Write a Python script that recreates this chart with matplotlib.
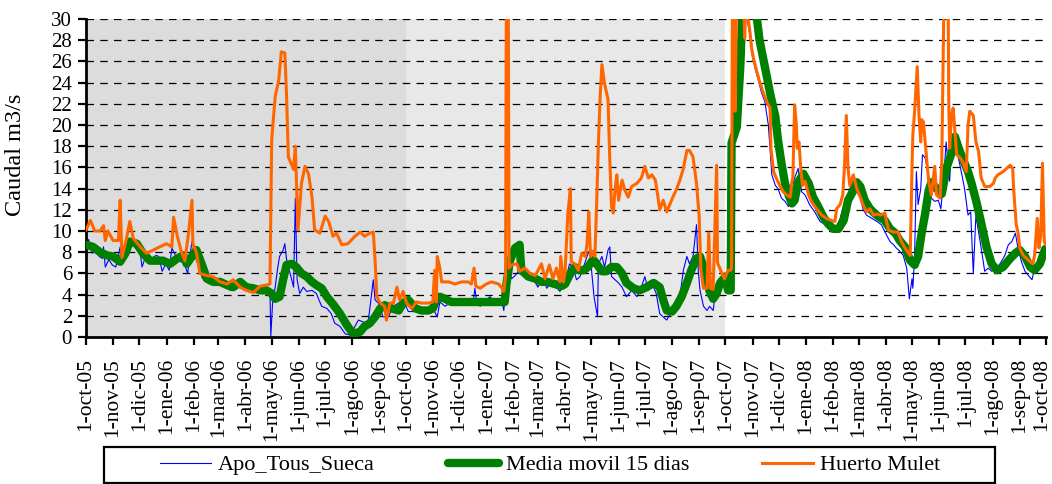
import matplotlib
matplotlib.use("Agg")
import matplotlib.pyplot as plt
import matplotlib.transforms as mtransforms
import pandas as pd
from matplotlib.lines import Line2D
from matplotlib.patches import Rectangle

plt.rcParams['font.family'] = ['Liberation Serif', 'DejaVu Serif']

# dias contados desde el 1-oct-2005
inicio = pd.Timestamp("2005-10-01")

# Apo_Tous_Sueca (m3/s)
dias_apo = [0, 3, 7, 11, 15, 19, 20, 22, 26, 30, 34, 39, 41, 47, 53, 59, 62, 64, 68, 74, 80, 83, 87, 91, 95, 98,
            104, 108, 112, 116, 119, 121, 125, 129, 133, 137, 142, 150, 158, 165, 173, 180, 188, 195, 205, 210,
            211, 213, 216, 219, 221, 225, 227, 229, 233, 237, 239, 241, 244, 248, 252, 258, 263, 269, 275, 280,
            284, 290, 296, 301, 305, 311, 317, 322, 328, 330, 334, 339, 345, 351, 357, 362, 368, 376, 387, 396,
            401, 404, 410, 417, 425, 433, 442, 444, 446, 450, 455, 461, 467, 475, 477, 479, 482, 486, 490, 494,
            499, 505, 511, 516, 520, 524, 526, 532, 537, 541, 545, 549, 552, 556, 560, 564, 568, 572, 575, 580,
            584, 585, 589, 592, 596, 598, 600, 604, 608, 612, 617, 623, 629, 634, 638, 642, 646, 651, 655, 659,
            663, 667, 672, 678, 682, 686, 689, 693, 697, 699, 701, 705, 709, 712, 716, 720, 726, 731, 736, 738,
            739, 743, 749, 751, 754, 756, 758, 760, 762, 764, 768, 771, 775, 779, 783, 787, 790, 794, 798, 802,
            806, 809, 813, 817, 821, 826, 832, 838, 844, 849, 855, 861, 864, 868, 872, 876, 880, 884, 887, 891,
            897, 903, 908, 914, 918, 922, 925, 929, 933, 937, 940, 943, 944, 946, 948, 950, 953, 955, 958, 962,
            965, 969, 973, 976, 979, 982, 986, 988, 992, 996, 1000, 1003, 1007, 1010, 1013, 1016, 1019, 1022,
            1026, 1030, 1034, 1040, 1045, 1049, 1053, 1057, 1061, 1064, 1068, 1072, 1076, 1080, 1083, 1087,
            1091, 1095]
q_apo = [8.8, 9.2, 7.9, 8.2, 7.6, 7.4, 8.5, 6.6, 7.3, 6.8, 6.6, 8.5, 7.6, 8.5, 8.7, 8.2, 7.9, 6.6, 7.6, 7.3, 7.7,
         7.6, 6.2, 6.9, 6.3, 8.4, 7.4, 7.1, 7.0, 6.0, 7.9, 9.0, 7.6, 6.6, 5.5, 5.7, 5.2, 5.1, 4.7, 4.4, 4.6, 5.1,
         4.7, 4.4, 4.6, 4.4, 0.1, 3.2, 4.7, 6.6, 7.6, 8.2, 8.8, 7.3, 6.0, 4.7, 13.1, 5.4, 4.1, 4.7, 4.3, 4.4,
         4.1, 2.9, 2.7, 2.2, 1.3, 1.0, 0.3, 0.2, 0.7, 1.6, 1.4, 1.3, 5.4, 3.5, 3.2, 1.9, 1.9, 2.9, 3.2, 3.5,
         2.4, 2.4, 2.5, 2.7, 1.9, 3.3, 2.9, 3.3, 3.2, 3.3, 3.3, 4.6, 3.3, 2.9, 3.3, 3.8, 3.3, 3.3, 2.5, 4.3,
         6.5, 5.5, 5.8, 6.2, 5.8, 5.5, 5.4, 4.7, 5.5, 5.1, 4.6, 5.2, 4.7, 4.3, 4.9, 5.8, 6.9, 6.6, 5.4, 5.7,
         6.6, 7.6, 8.2, 3.8, 1.9, 6.9, 7.6, 6.6, 8.2, 8.5, 5.7, 5.4, 5.1, 4.7, 3.8, 4.4, 3.8, 4.7, 5.7, 4.4,
         5.1, 4.1, 2.2, 1.9, 1.6, 2.2, 2.9, 3.8, 6.3, 7.6, 6.9, 7.6, 10.6, 6.3, 4.4, 2.9, 2.5, 2.9, 2.5, 5.1,
         5.1, 4.4, 4.7, 4.3, 20.9, 33.0, 33.0, 26.6, 32.0, 29.4, 28.5, 26.9, 26.0, 25.3, 24.1, 23.1, 22.2,
         20.0, 15.3, 14.3, 14.0, 13.1, 12.8, 12.3, 14.0, 15.0, 15.9, 13.7, 13.4, 12.5, 11.8, 10.9, 10.6, 10.3,
         9.9, 11.2, 12.1, 12.8, 14.0, 14.7, 13.7, 13.1, 12.1, 11.5, 11.2, 10.9, 10.6, 9.6, 9.0, 8.7, 8.4, 8.1,
         7.7, 6.5, 3.6, 5.5, 4.6, 7.7, 15.6, 12.5, 14.0, 17.2, 16.9, 15.3, 13.1, 12.8, 12.9, 12.1, 14.7, 18.4,
         14.7, 17.8, 18.4, 16.9, 15.3, 14.0, 11.5, 11.8, 6.0, 11.5, 9.9, 8.4, 6.2, 6.5, 6.2, 6.5, 7.1, 7.7,
         8.7, 9.0, 9.8, 8.4, 7.1, 6.2, 5.8, 5.4, 6.5, 7.1, 7.7, 8.7]

# Media movil 15 dias (m3/s)
dias_media = [0, 8, 16, 24, 31, 39, 45, 50, 58, 65, 73, 81, 88, 96, 104, 111, 115, 121, 126, 132, 138, 145, 153,
              161, 168, 176, 183, 191, 199, 206, 212, 216, 221, 225, 229, 235, 240, 246, 252, 258, 263, 269, 275,
              282, 290, 298, 305, 313, 318, 324, 330, 336, 341, 349, 357, 362, 368, 376, 383, 391, 396, 400, 404,
              410, 417, 440, 460, 478, 480, 484, 490, 495, 497, 505, 513, 520, 527, 535, 543, 547, 553, 558, 562,
              568, 573, 579, 583, 589, 594, 600, 606, 612, 617, 625, 632, 640, 648, 655, 659, 663, 669, 674, 680,
              686, 691, 697, 701, 705, 709, 712, 716, 720, 724, 730, 733, 736, 737, 743, 747, 749, 753, 762, 766,
              769, 775, 781, 787, 790, 794, 798, 802, 806, 809, 813, 819, 825, 830, 836, 842, 847, 853, 859, 865,
              870, 876, 880, 884, 889, 895, 901, 906, 912, 918, 924, 929, 935, 941, 946, 950, 954, 958, 962, 965,
              971, 977, 983, 988, 992, 996, 1000, 1003, 1007, 1011, 1017, 1023, 1028, 1034, 1040, 1047, 1055,
              1061, 1066, 1072, 1078, 1083, 1089, 1095]
q_media = [8.7, 8.5, 8.0, 7.7, 7.6, 7.1, 7.9, 9.0, 8.8, 7.9, 7.2, 7.2, 7.2, 6.9, 7.4, 7.7, 6.9, 7.6, 8.2, 6.9, 5.5,
           5.2, 5.2, 4.9, 4.7, 5.2, 4.7, 4.6, 4.4, 4.4, 4.1, 3.6, 3.8, 5.4, 6.8, 6.9, 6.6, 6.0, 5.7, 5.2, 4.9,
           4.6, 3.8, 3.1, 2.2, 1.1, 0.3, 0.5, 1.0, 1.3, 1.9, 2.7, 3.0, 2.7, 2.5, 3.2, 3.5, 2.7, 2.5, 2.5, 2.7,
           3.5, 3.8, 3.6, 3.3, 3.3, 3.3, 3.3, 5.0, 7.2, 8.4, 8.7, 6.3, 5.7, 5.5, 5.2, 5.2, 5.0, 4.8, 5.0, 6.0,
           6.6, 6.3, 6.3, 6.6, 7.3, 6.9, 6.2, 6.2, 6.6, 6.6, 6.0, 5.1, 4.6, 4.4, 4.7, 5.1, 4.7, 3.5, 2.5, 2.4,
           2.9, 3.8, 5.1, 6.3, 7.4, 7.6, 6.6, 5.4, 4.3, 3.6, 4.1, 5.1, 5.7, 4.4, 4.4, 18.3, 19.8, 25.5, 30.0,
           33.0, 33.0, 30.0, 28.0, 25.5, 23.0, 20.8, 18.6, 16.4, 14.5, 13.4, 12.6, 12.9, 14.6, 15.4, 14.5, 13.2,
           12.3, 11.3, 10.7, 10.2, 10.2, 11.0, 12.9, 13.8, 14.6, 14.2, 12.9, 12.1, 11.6, 11.3, 11.0, 10.2, 9.8,
           9.1, 8.5, 7.2, 6.8, 7.6, 9.8, 11.6, 13.8, 14.6, 14.0, 13.5, 16.1, 17.3, 18.9, 17.9, 17.0, 16.4, 15.6,
           14.5, 12.6, 10.4, 8.5, 6.9, 6.3, 6.6, 7.4, 7.9, 8.2, 7.6, 6.6, 6.3, 6.9, 8.3]

# Huerto Mulet (m3/s)
dias_huerto = [0, 5, 10, 16, 20, 22, 25, 31, 37, 39, 41, 46, 50, 54, 62, 69, 77, 84, 92, 98, 100, 104, 109, 113,
               117, 121, 122, 126, 130, 138, 145, 153, 161, 168, 176, 183, 191, 199, 206, 210, 212, 216, 220, 223,
               227, 229, 231, 237, 239, 242, 246, 250, 254, 258, 261, 267, 273, 277, 282, 286, 292, 299, 307, 313,
               318, 324, 328, 330, 332, 336, 341, 343, 347, 351, 355, 358, 362, 366, 368, 372, 377, 383, 391, 396,
               398, 400, 401, 404, 406, 414, 421, 429, 436, 440, 443, 445, 450, 457, 463, 471, 475, 477, 479, 480,
               482, 483, 486, 492, 495, 501, 507, 513, 520, 524, 529, 533, 537, 541, 542, 545, 547, 550, 553, 554,
               558, 562, 566, 570, 572, 574, 576, 579, 581, 583, 585, 587, 589, 592, 596, 598, 600, 602, 604, 606,
               608, 612, 615, 619, 623, 629, 634, 638, 642, 646, 650, 653, 655, 659, 663, 667, 670, 674, 678, 682,
               686, 689, 693, 697, 700, 702, 705, 709, 711, 713, 716, 720, 721, 726, 729, 733, 736, 737, 738, 740,
               741, 743, 750, 752, 754, 756, 758, 760, 762, 766, 769, 773, 777, 781, 782, 785, 788, 792, 796, 800,
               804, 806, 807, 809, 811, 812, 814, 816, 818, 821, 825, 828, 834, 840, 845, 851, 855, 857, 861, 864,
               866, 868, 870, 872, 876, 880, 884, 887, 891, 895, 899, 903, 907, 912, 916, 922, 927, 931, 935, 939,
               941, 943, 944, 946, 949, 951, 953, 954, 956, 958, 960, 962, 965, 969, 971, 975, 977, 980, 984, 985,
               986, 988, 990, 992, 994, 998, 1001, 1005, 1007, 1009, 1013, 1016, 1019, 1022, 1026, 1032, 1036,
               1038, 1041, 1047, 1051, 1055, 1058, 1059, 1062, 1064, 1066, 1070, 1074, 1078, 1081, 1083, 1086,
               1088, 1090, 1092, 1094, 1096]
q_huerto = [10.1, 11.0, 10.0, 10.0, 10.5, 9.1, 10.0, 9.1, 9.1, 12.9, 7.5, 9.2, 10.9, 9.3, 8.5, 7.9, 8.2, 8.5, 8.8,
            8.5, 11.3, 9.6, 8.0, 7.2, 9.8, 12.9, 8.8, 8.0, 6.0, 5.8, 5.7, 5.2, 5.0, 5.4, 4.7, 4.4, 4.2, 4.8, 4.9,
            5.0, 18.6, 22.7, 24.2, 26.9, 26.8, 22.7, 17.0, 15.8, 18.0, 10.1, 14.5, 16.1, 15.4, 13.2, 10.1, 9.8,
            11.4, 10.9, 9.5, 9.8, 8.7, 8.8, 9.5, 9.9, 9.5, 9.8, 9.9, 7.3, 3.8, 3.2, 2.9, 1.6, 3.2, 3.2, 4.7, 3.5,
            4.3, 3.2, 3.0, 2.7, 3.3, 3.2, 3.2, 3.3, 6.3, 3.3, 7.6, 6.5, 5.2, 5.2, 5.0, 5.2, 5.2, 5.0, 6.5, 4.8,
            4.6, 5.0, 5.2, 5.0, 4.6, 4.3, 5.8, 35.0, 35.0, 6.5, 6.8, 6.9, 6.2, 6.5, 6.0, 5.8, 6.9, 5.5, 6.8, 5.5,
            6.5, 5.2, 7.6, 5.2, 6.2, 11.5, 14.0, 7.1, 6.9, 6.3, 7.9, 7.6, 8.8, 11.8, 7.6, 8.1, 7.6, 12.6, 18.3,
            22.7, 25.7, 23.9, 22.4, 16.7, 12.3, 11.7, 13.9, 15.3, 12.9, 14.8, 13.9, 13.2, 14.2, 14.5, 15.0, 16.1,
            15.0, 15.3, 14.8, 13.2, 12.0, 12.9, 11.8, 12.6, 13.2, 13.9, 14.8, 15.9, 17.6, 17.6, 17.0, 14.5, 11.4,
            6.3, 4.6, 4.6, 9.8, 4.6, 4.5, 16.2, 7.0, 6.0, 5.5, 6.3, 6.3, 6.5, 34.0, 34.0, 21.3, 34.0, 34.0, 28.2,
            33.0, 30.0, 28.8, 27.2, 26.3, 25.0, 24.1, 23.1, 22.2, 21.6, 17.8, 15.6, 15.0, 14.3, 13.7, 13.4, 13.2,
            14.7, 15.0, 21.9, 20.0, 17.8, 18.4, 15.9, 14.3, 14.7, 13.4, 12.8, 12.1, 11.5, 11.2, 11.0, 10.9, 12.1,
            12.5, 13.4, 16.2, 20.9, 15.9, 14.3, 15.3, 14.0, 13.2, 12.5, 11.8, 12.1, 11.5, 11.6, 11.5, 11.7, 10.1,
            9.9, 9.9, 9.0, 8.4, 7.9, 7.7, 15.9, 19.1, 21.3, 25.5, 20.9, 18.4, 20.5, 20.3, 18.4, 16.5, 14.7, 13.4,
            16.1, 13.4, 13.1, 16.5, 35.0, 35.0, 22.0, 17.8, 20.9, 21.6, 19.4, 17.2, 16.9, 16.5, 15.6, 20.0, 21.3,
            20.9, 18.4, 17.5, 15.0, 14.2, 14.2, 14.5, 15.0, 15.3, 15.6, 15.9, 16.2, 15.9, 14.0, 10.6, 9.9, 8.4,
            7.7, 7.4, 7.1, 6.9, 7.7, 11.2, 8.4, 9.6, 16.4, 9.0, 8.7]

meses = ["ene", "feb", "mar", "abr", "may", "jun", "jul", "ago", "sep", "oct", "nov", "dic"]


def fechas(dias):
    return inicio + pd.to_timedelta(dias, unit="D")


fig = plt.figure(figsize=(10.52, 4.84), dpi=100)
ax = fig.add_axes([86 / 1052, 1 - 337 / 484, 960 / 1052, 318 / 484])

# fondo por año hidrológico
ax.axvspan(fechas(0), fechas(365), color="#dcdcdc", lw=0, zorder=0)
ax.axvspan(fechas(365), fechas(730), color="#e8e8e8", lw=0, zorder=0)

for y in range(2, 31, 2):
    ax.axhline(y, color="black", lw=0.9, dashes=(6, 5), zorder=1)

ax.plot(fechas(dias_apo), q_apo, color="#0000ff", lw=0.8, zorder=2)
ax.plot(fechas(dias_media), q_media, color="#008000", lw=6, solid_capstyle="round",
        solid_joinstyle="round", zorder=3)
ax.plot(fechas(dias_huerto), q_huerto, color="#ff6600", lw=2.2, zorder=4)

ax.set_ylim(0, 30)
ax.set_xlim(fechas(0), fechas(1096))
ax.set_yticks(range(0, 31, 2))

ticks = pd.date_range("2005-10-01", "2008-10-01", freq="MS")
ax.set_xticks(ticks)
ax.set_xticklabels([f"1-{meses[t.month - 1]}-{t.strftime('%y')}" for t in ticks], rotation=90)

for lado in ["top", "right"]:
    ax.spines[lado].set_visible(False)
for lado in ["left", "bottom"]:
    ax.spines[lado].set_linewidth(2)
ax.tick_params(axis="both", direction="out", length=6, width=1.6)
ax.tick_params(axis="y", labelsize=15, pad=4)
ax.tick_params(axis="x", labelsize=15.5, pad=9)

# la última etiqueta queda pegada al borde: se desplaza un poco a la izquierda
ultima = ax.get_xticklabels()[-1]
ultima.set_transform(ultima.get_transform() + mtransforms.ScaledTranslation(-4 / 100, 0, fig.dpi_scale_trans))

ax.set_ylabel("Caudal m3/s", fontsize=17.5)
ax.yaxis.set_label_coords(-0.063, 0.572)

# recuadro de la leyenda
fig.patches.append(Rectangle((104 / 1052, 1 - 483 / 484), 891 / 1052, 36 / 484, transform=fig.transFigure,
                             fill=False, edgecolor="black", lw=1.6))
handles = [Line2D([], [], color="#0000ff", lw=0.8),
           Line2D([], [], color="#008000", lw=6, solid_capstyle="round"),
           Line2D([], [], color="#ff6600", lw=2.2)]
fig.legend(handles, ["Apo_Tous_Sueca", "Media movil 15 dias", "Huerto Mulet"],
           loc="center", bbox_to_anchor=(550 / 1052, 1 - 465 / 484), ncol=3, fontsize=16,
           frameon=False, handlelength=2.3, handletextpad=0.3, columnspacing=3.3, borderpad=0)

fig.savefig("out.png", dpi=100)
